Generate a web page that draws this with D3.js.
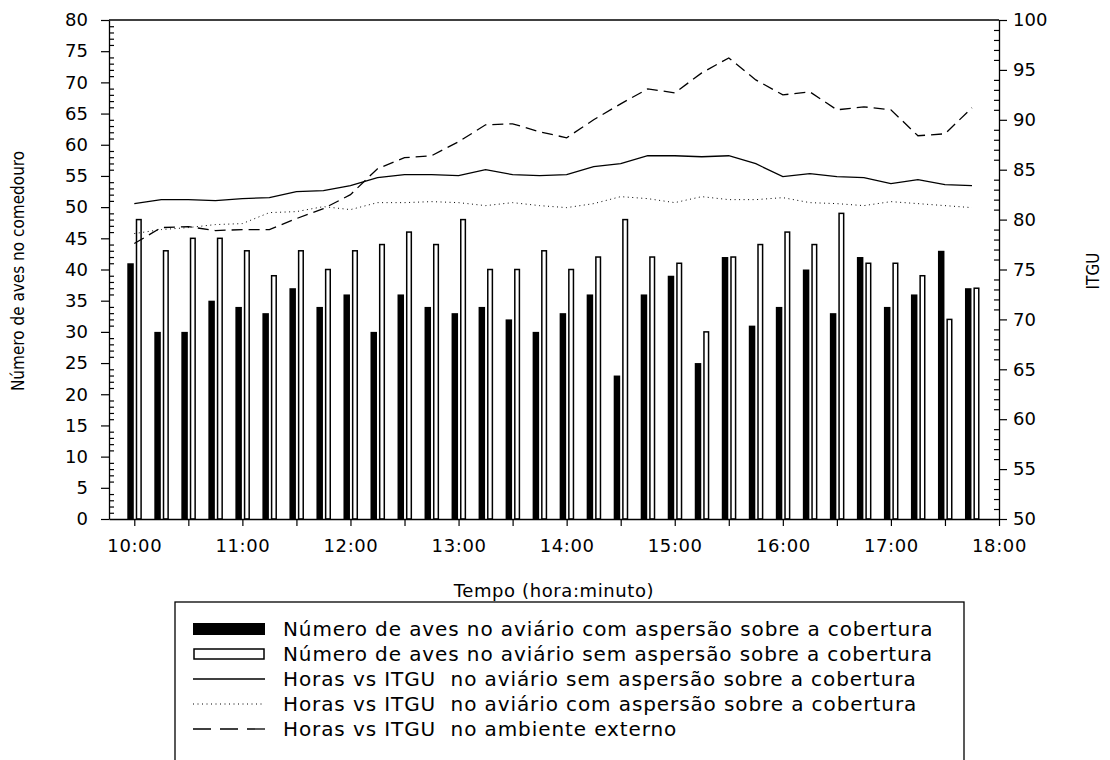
<!DOCTYPE html>
<html>
<head>
<meta charset="utf-8">
<script src="https://cdn.jsdelivr.net/npm/d3@7"></script>
<style>
  body { margin: 0; background: #fff; }
  svg { display: block; }
  text { font-family: "DejaVu Sans", Verdana, sans-serif; fill: #000; }
</style>
</head>
<body>
<div id="chart"></div>
<script>
// Horários de observação (a cada 15 minutos)
const times = ["10:00","10:15","10:30","10:45","11:00","11:15","11:30","11:45",
  "12:00","12:15","12:30","12:45","13:00","13:15","13:30","13:45",
  "14:00","14:15","14:30","14:45","15:00","15:15","15:30","15:45",
  "16:00","16:15","16:30","16:45","17:00","17:15","17:30","17:45"];

// Número de aves no comedouro
const avesCom = [41,30,30,35,34,33,37,34,36,30,36,34,33,34,32,30,
  33,36,23,36,39,25,42,31,34,40,33,42,34,36,43,37];
const avesSem = [48,43,45,45,43,39,43,40,43,44,46,44,48,40,40,43,
  40,42,48,42,41,30,42,44,46,44,49,41,41,39,32,37];

// ITGU
const itguSem = [81.6,82.0,82.0,81.9,82.1,82.2,82.8,82.9,83.4,84.2,84.5,84.5,84.4,85.0,84.5,84.4,
  84.5,85.3,85.6,86.4,86.4,86.3,86.4,85.6,84.3,84.6,84.3,84.2,83.6,84.0,83.5,83.4];
const itguCom = [78.6,79.0,79.2,79.5,79.6,80.7,80.8,81.3,81.0,81.7,81.7,81.8,81.7,81.4,81.7,81.4,
  81.2,81.6,82.3,82.1,81.7,82.3,82.0,82.0,82.2,81.7,81.6,81.4,81.8,81.6,81.4,81.2];
const itguExt = [77.6,79.2,79.3,78.9,79.0,79.0,80.1,81.1,82.5,85.1,86.2,86.4,87.8,89.5,89.6,88.8,
  88.2,90.0,91.6,93.1,92.7,94.7,96.2,94.0,92.5,92.8,91.0,91.3,91.0,88.4,88.6,91.2];

const xTickLabels = ["10:00","11:00","12:00","13:00","14:00","15:00","16:00","17:00","18:00"];

const legendLabels = [
  "Número de aves no aviário com aspersão sobre a cobertura",
  "Número de aves no aviário sem aspersão sobre a cobertura",
  "Horas vs ITGU  no aviário sem aspersão sobre a cobertura",
  "Horas vs ITGU  no aviário com aspersão sobre a cobertura",
  "Horas vs ITGU  no ambiente externo"
];

const toHours = s => { const [h, m] = s.split(":").map(Number); return h + m / 60; };

const width = 1110, height = 760;
const plotLeft = 109, plotRight = 999, plotTop = 20, plotBottom = 519;

const svg = d3.select("#chart").append("svg")
  .attr("width", width).attr("height", height);

const x = d3.scaleLinear().domain([9.766, 18]).range([plotLeft, plotRight]);
const yL = d3.scaleLinear().domain([0, 80]).range([plotBottom, plotTop]);
const yR = d3.scaleLinear().domain([50, 100]).range([plotBottom, plotTop]);

// Barras
const rows = times.map((t, i) => ({ h: toHours(t), com: avesCom[i], sem: avesSem[i] }));

svg.append("g").selectAll("rect")
  .data(rows).enter().append("rect")
  .attr("x", d => x(d.h) - 7)
  .attr("width", 6.5)
  .attr("y", d => yL(d.com))
  .attr("height", d => yL(0) - yL(d.com))
  .attr("fill", "#000");

svg.append("g").selectAll("rect")
  .data(rows).enter().append("rect")
  .attr("x", d => x(d.h) + 2.2)
  .attr("width", 4.6)
  .attr("y", d => yL(d.sem))
  .attr("height", d => yL(0) - yL(d.sem))
  .attr("fill", "#fff")
  .attr("stroke", "#000")
  .attr("stroke-width", 1.5);

// Linhas de ITGU
const line = d3.line().x(d => x(d[0])).y(d => yR(d[1]));
const series = [
  { vals: itguSem, dash: null, w: 1.3 },
  { vals: itguCom, dash: "1,3.5", w: 1 },
  { vals: itguExt, dash: "11,6", w: 1.3 }
];
series.forEach(s => {
  svg.append("path")
    .datum(times.map((t, i) => [toHours(t), s.vals[i]]))
    .attr("d", line)
    .attr("fill", "none")
    .attr("stroke", "#000")
    .attr("stroke-width", s.w)
    .attr("stroke-dasharray", s.dash);
});

// Moldura
svg.append("line").attr("x1", plotLeft).attr("x2", plotRight).attr("y1", plotTop).attr("y2", plotTop)
  .attr("stroke", "#000").attr("stroke-width", 1.3);

// Eixo esquerdo
const gL = svg.append("g").attr("transform", `translate(${plotLeft},0)`);
gL.call(d3.axisLeft(yL).tickValues(d3.range(0, 81, 5)).tickSize(8).tickSizeOuter(0));
gL.append("g").call(d3.axisRight(yL).tickValues(d3.range(0, 81, 1).filter(v => v % 5)).tickSize(5).tickFormat(""))
  .select(".domain").remove();

// Eixo direito
const gR = svg.append("g").attr("transform", `translate(${plotRight},0)`);
gR.call(d3.axisRight(yR).tickValues(d3.range(50, 101, 5)).tickSize(8).tickSizeOuter(0));
gR.append("g").call(d3.axisLeft(yR).tickValues(d3.range(50, 101, 1).filter(v => v % 5)).tickSize(5).tickFormat(""))
  .select(".domain").remove();

// Eixo x
const gX = svg.append("g").attr("transform", `translate(0,${plotBottom})`);
gX.call(d3.axisBottom(x)
  .tickValues(d3.range(10, 18.01, 0.5))
  .tickSize(7).tickSizeOuter(0)
  .tickFormat(v => Number.isInteger(v) ? xTickLabels[v - 10] : ""));

[gL, gR, gX].forEach(g => {
  g.selectAll(".domain").attr("stroke-width", 1.3);
  g.selectAll(".tick line").attr("stroke-width", 1.2);
  g.selectAll(".tick text").style("font-size", "18px").style("font-family", "DejaVu Sans, Verdana, sans-serif");
});
gL.selectAll(".tick text").attr("x", -21);
gR.selectAll(".tick text").attr("x", 14);
gX.selectAll(".tick text").attr("y", 20).style("letter-spacing", "0.6px");

// Títulos
svg.append("text")
  .attr("transform", "translate(24,271) rotate(-90)")
  .attr("text-anchor", "middle")
  .style("font-family", "'Liberation Sans Narrow', 'DejaVu Sans Condensed', sans-serif")
  .style("font-size", "17px")
  .text("Número de aves no comedouro");

svg.append("text")
  .attr("transform", "translate(1099,271) rotate(-90)")
  .attr("text-anchor", "middle")
  .style("font-family", "'Liberation Sans Narrow', 'DejaVu Sans Condensed', sans-serif")
  .style("font-size", "17px")
  .text("ITGU");

svg.append("text")
  .attr("x", 554).attr("y", 597)
  .attr("text-anchor", "middle")
  .style("font-size", "18px")
  .style("letter-spacing", "0.6px")
  .text("Tempo (hora:minuto)");

// Legenda
const lg = svg.append("g");
lg.append("rect")
  .attr("x", 175).attr("y", 602).attr("width", 789).attr("height", 160)
  .attr("fill", "#fff").attr("stroke", "#000").attr("stroke-width", 1.3);

const items = lg.selectAll("g.item")
  .data(legendLabels).enter().append("g")
  .attr("class", "item")
  .attr("transform", (d, i) => `translate(0,${629 + i * 25})`);

items.append("text")
  .attr("x", 283).attr("dy", "0.35em")
  .style("font-size", "20px")
  .style("letter-spacing", "0.9px")
  .style("white-space", "pre")
  .text(d => d);

items.each(function(d, i) {
  const g = d3.select(this);
  if (i === 0) {
    g.append("rect").attr("x", 193).attr("y", -6).attr("width", 72).attr("height", 12).attr("fill", "#000");
  } else if (i === 1) {
    g.append("rect").attr("x", 194).attr("y", -5).attr("width", 70).attr("height", 10)
      .attr("fill", "#fff").attr("stroke", "#000").attr("stroke-width", 1.5);
  } else {
    g.append("line").attr("x1", 193).attr("x2", 265).attr("y1", 0).attr("y2", 0)
      .attr("stroke", "#000")
      .attr("stroke-width", i === 3 ? 1 : 1.3)
      .attr("stroke-dasharray", i === 3 ? "1,3.5" : i === 4 ? "18,9" : null);
  }
});
</script>
</body>
</html>
